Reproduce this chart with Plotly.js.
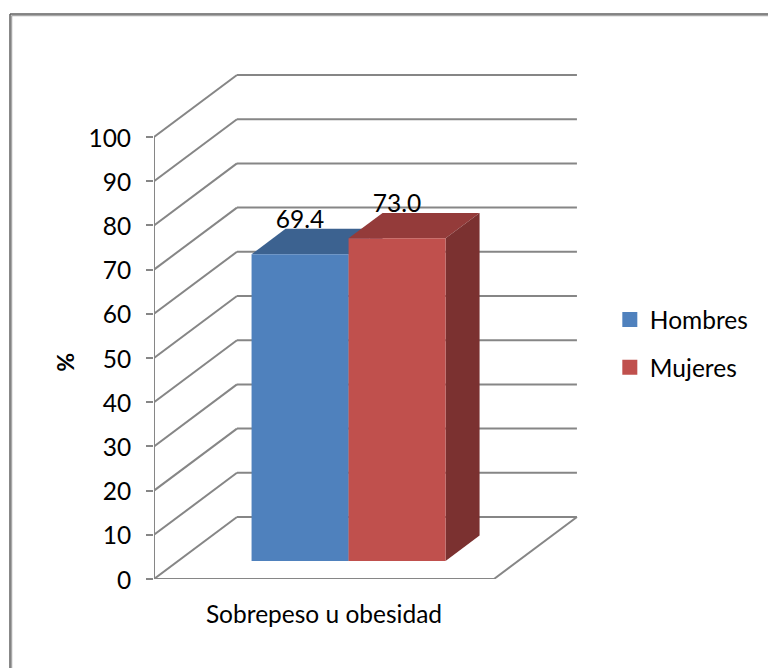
<!DOCTYPE html>
<html>
<head>
<meta charset="utf-8">
<script src="https://cdn.plot.ly/plotly-3.0.1.min.js"></script>
<style>html,body{margin:0;padding:0;background:#fff}</style>
</head>
<body>
<div id="chart" style="width:768px;height:668px"></div>
<script>
// Series and labels
const categoryLabel = 'Sobrepeso u obesidad';
const seriesNames = ['Hombres', 'Mujeres'];
const seriesValues = [69.4, 73.0];
const frontColors = ['#4F81BD', '#C0504D'];
const topColors = ['#3C6290', '#943B3A'];
const sideColors = ['#335479', '#7B3130'];
const yTicks = [0, 10, 20, 30, 40, 50, 60, 70, 80, 90, 100];

// Oblique projection of the box: how far the back wall sits from the front plane
const depthX = 0.244, depthY = 14.03;
const barStart = 0.2162, barWidth = 0.2853;   // along the category axis, front plane of the bars
const barDepthFrom = 0.29, barDepthTo = 0.70; // fraction of the box depth occupied by the bars
const grey = '#868686';
const textFont = 'Lato';
const textSize = 24.5;

const project = (x, y, d) => [x + d * depthX, y + d * depthY];
const pathOf = pts => 'M' + pts.map(p => p[0] + ',' + p[1]).join('L') + 'Z';
const lineShape = (a, b) => ({type: 'line', layer: 'below', xref: 'x', yref: 'y',
  x0: a[0], y0: a[1], x1: b[0], y1: b[1], line: {color: grey, width: 2}});
const faceShape = (pts, color) => ({type: 'path', layer: 'below', xref: 'x', yref: 'y',
  path: pathOf(pts), fillcolor: color, line: {width: 0}});

// Walls of the box
const shapes = [];
yTicks.forEach(t => {
  shapes.push(lineShape(project(0, t, 0), project(0, t, 1)));
  shapes.push(lineShape(project(0, t, 1), project(1, t, 1)));
});
shapes.push(lineShape(project(1, 0, 0), project(1, 0, 1)));

// Top and side faces, back to front; the front faces are the bar traces
const lift = barDepthFrom * depthY;
const fronts = seriesValues.map((v, i) => {
  const x0 = barStart + i * barWidth, x1 = x0 + barWidth;
  const a = barDepthFrom, b = barDepthTo;
  shapes.push(faceShape([project(x0, v, a), project(x0, v, b), project(x1, v, b), project(x1, v, a)], topColors[i]));
  shapes.push(faceShape([project(x1, 0, a), project(x1, 0, b), project(x1, v, b), project(x1, v, a)], sideColors[i]));
  return {
    type: 'bar', x: [project(x0 + barWidth / 2, 0, a)[0]], y: [v], base: [lift], width: [barWidth],
    marker: {color: frontColors[i], line: {width: 0}}, showlegend: false, hoverinfo: 'y', name: seriesNames[i]
  };
});

// Axis lines and ticks that run past the plotting area
const axisLine = (xs, ys) => ({type: 'scatter', mode: 'lines', x: xs, y: ys, cliponaxis: false,
  line: {color: grey, width: 2}, showlegend: false, hoverinfo: 'skip'});
const axisTraces = [
  axisLine([0, 0], [-1.8, 100]),
  axisLine([-0.02, 1, 1], [0, 0, -1.8]),
];

// Value labels above the front face of each bar
const labelTrace = {
  type: 'scatter', mode: 'text', cliponaxis: false, showlegend: false, hoverinfo: 'skip',
  x: seriesValues.map((v, i) => project(barStart + (i + 0.5) * barWidth, 0, barDepthFrom)[0]),
  y: seriesValues.map(v => v + 11.5),
  text: seriesValues.map(v => v.toFixed(1)),
  textposition: 'middle center',
  textfont: {family: textFont, size: textSize, color: '#000'}
};

// Legend entries
const legendTraces = seriesNames.map((n, i) => ({
  type: 'scatter', mode: 'markers', name: n, x: [null], y: [null], legendgroup: n,
  marker: {symbol: 'square', size: 15, color: frontColors[i]}
}));

// Double rule along the top and left edges of the page
const edge = (x0, y0, x1, y1, color, width) => ({type: 'line', xref: 'paper', yref: 'paper',
  x0, y0, x1, y1, line: {color, width}});
const frameLeft = -144 / 426, frameLeftInner = -142.5 / 426;
const frameTop = 565 / 509, frameTopInner = 563.5 / 509;
const frame = [
  edge(frameLeftInner, frameTopInner, 1.45, frameTopInner, '#a8a8a8', 1.5),
  edge(frameLeftInner, frameTopInner, frameLeftInner, -0.2, '#a8a8a8', 1.5),
  edge(frameLeft, frameTop, 1.45, frameTop, '#606060', 1.5),
  edge(frameLeft, frameTop, frameLeft, -0.2, '#606060', 1.5)
];

const layout = {
  width: 768, height: 668,
  paper_bgcolor: '#fff', plot_bgcolor: 'rgba(0,0,0,0)',
  margin: {l: 154, r: 188, t: 70, b: 89},
  font: {family: textFont, size: textSize, color: '#000'},
  showlegend: true,
  legend: {x: 1.07, xanchor: 'left', y: 0.554, yanchor: 'top', tracegroupgap: 13, bgcolor: 'rgba(0,0,0,0)',
    font: {family: textFont, size: textSize, color: '#000'}},
  xaxis: {range: [0, 1.253], tickvals: [0.5], ticktext: [categoryLabel], ticks: '', showgrid: false,
    zeroline: false, showline: false, ticklabelstandoff: 18},
  yaxis: {range: [0, 115.16], tickvals: yTicks, ticks: 'outside', ticklen: 7, tickwidth: 2, tickcolor: grey,
    showgrid: false, zeroline: false, showline: false, ticklabelstandoff: 10, ticklabelshift: 1},
  barmode: 'overlay',
  shapes: shapes.concat(frame),
  annotations: [{text: '<b>%</b>', xref: 'paper', yref: 'y', x: -0.208, y: 49, textangle: -90, showarrow: false,
    xanchor: 'center', font: {family: textFont, size: 23, color: '#000'}}]
};

Plotly.newPlot('chart', fronts.concat(axisTraces, [labelTrace], legendTraces), layout, {displayModeBar: false});
</script>
</body>
</html>
